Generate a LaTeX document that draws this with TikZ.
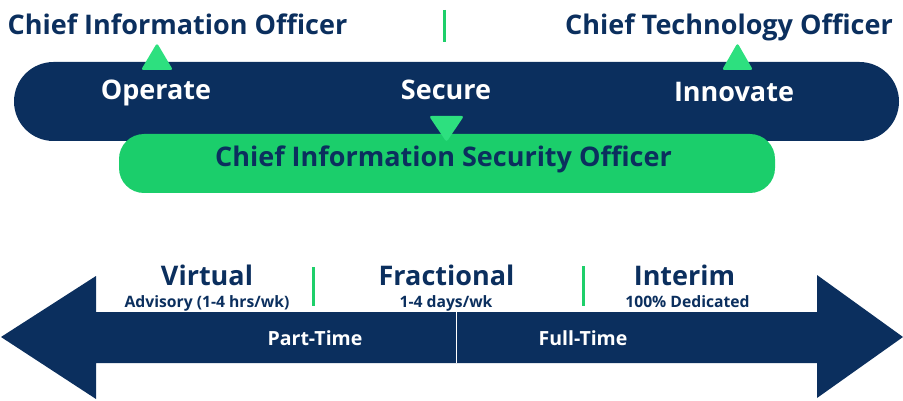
\documentclass[tikz,border=0pt]{standalone}
\usepackage{fontspec}
\setmainfont{Open Sans}
\definecolor{navy}{HTML}{0B2F5E}
\definecolor{pillgreen}{HTML}{1BCE6B}
\definecolor{trigreen}{HTML}{2DE07F}
\definecolor{linegreen}{HTML}{1ECF6A}
\begin{document}
\begin{tikzpicture}[x=1pt,y=-1pt,
  big/.style={font=\fontsize{27}{31}\selectfont\bfseries, inner sep=0pt, anchor=base},
  mid/.style={font=\fontsize{19.5}{23}\selectfont\bfseries, inner sep=0pt, anchor=base, text=white},
  small/.style={font=\fontsize{15.7}{18}\selectfont\bfseries, inner sep=0pt, anchor=base, text=navy},
  tri/.style={fill=trigreen, rounded corners=2.5pt},
  divider/.style={draw=linegreen, line width=3pt}]
\useasboundingbox (0,0) rectangle (903,401);
% top pills
\fill[navy, rounded corners=39.5pt] (14,62) rectangle (899,141);
\fill[pillgreen, rounded corners=25pt] (119,134) rectangle (775,193);
\fill[tri] (141,70) -- (157,43) -- (173,70) -- cycle;
\fill[tri] (722,70) -- (737.5,43) -- (753,70) -- cycle;
\fill[tri] (429,116) -- (446.5,142) -- (464,116) -- cycle;
\draw[divider] (444,10) -- (444,42);
\node[big, text=navy] (cio) at (177.5,35) {Chief Information Officer};
\node[big, text=navy] (cto) at (729,35) {Chief Technology Officer};
\node[big, text=white] (operate) at (156,100) {Operate};
\node[big, text=white] (secure) at (446,100) {Secure};
\node[big, text=white] (innovate) at (734,102) {Innovate};
\node[big, text=navy] (ciso) at (443.5,167) {Chief Information Security Officer};
% bottom arrow
\fill[navy] (456,312) -- (96,312) -- (96,276) -- (1,337) -- (96,399) -- (96,363) -- (456,363) -- cycle;
\fill[navy] (456,312) -- (817,312) -- (817,275) -- (903,337) -- (817,398) -- (817,363) -- (456,363) -- cycle;
\draw[white, line width=1pt] (456,312) -- (456,363);
\draw[divider] (313,267) -- (313,306);
\draw[divider] (583,266) -- (583,306);
\node[big, text=navy] (virtual) at (207,285) {Virtual};
\node[small] (advisory) at (207,307) {Advisory (1-4 hrs/wk)};
\node[big, text=navy] (fractional) at (446.5,285) {Fractional};
\node[small] (days) at (446,307) {1-4 days/wk};
\node[big, text=navy] (interim) at (684.5,285) {Interim};
\node[small] (dedicated) at (687.5,307) {100\% Dedicated};
\node[mid] (part) at (315,345.5) {Part-Time};
\node[mid] (full) at (583,345.5) {Full-Time};
\end{tikzpicture}
\end{document}
